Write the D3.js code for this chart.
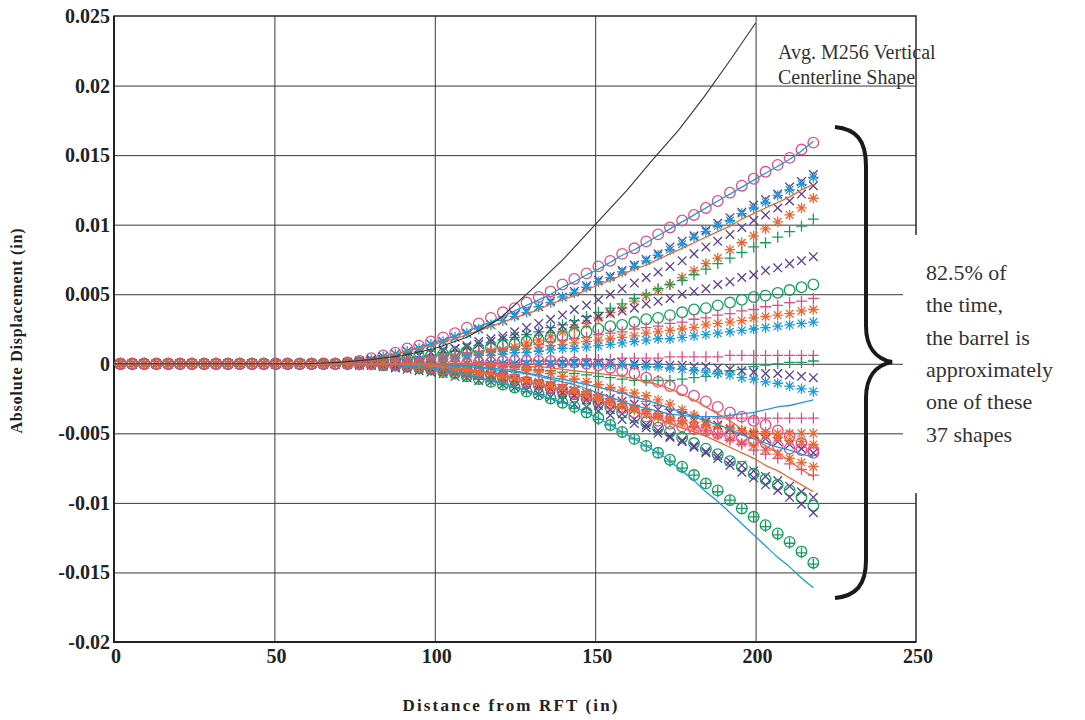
<!DOCTYPE html>
<html><head><meta charset="utf-8">
<script src="https://cdn.jsdelivr.net/npm/d3@7"></script>
<style>body{margin:0;background:#fff}svg{display:block}</style>
</head><body><svg id="c" width="1085" height="720"></svg>
<script>
// Distance from RFT (in) of each measurement station
const stations = [2.0,5.7,9.4,13.2,16.9,20.6,24.3,28.1,31.8,35.5,39.2,43.0,46.7,50.4,54.1,57.9,61.6,65.3,69.0,
  72.8,76.5,80.2,83.9,87.7,91.4,95.1,98.8,102.6,106.3,110.0,113.7,117.5,121.2,124.9,128.6,132.4,136.1,139.8,143.5,147.3,
  151.0,154.7,158.4,162.2,165.9,169.6,173.3,177.1,180.8,184.5,188.2,192.0,195.7,199.4,203.1,206.9,210.6,214.3,218.0];

// Shape values, in units of 0.0001 in, one per station
const pinkCircleTop   = [0,0,0,0,0,0,0,0,0,0,0,0,0,0,0,0,0,0,0, 1,2,4,6,8,11,13,16,19,22, 26,29,33,37,40,44,48,52,57,61, 65,70,74,79,83,88,93,98,103,107, 112,117,123,128,133,138,143,148,154,159];
const purpleXTop      = [0,0,0,0,0,0,0,0,0,0,0,0,0,0,0,0,0,0,0, 1,2,3,5,7,9,11,14,16,19, 22,25,28,31,35,38,41,45,48,52, 56,60,63,67,71,75,79,84,88,92, 96,101,105,109,114,118,122,127,131,136];
const cyanStarTop     = [0,0,0,0,0,0,0,0,0,0,0,0,0,0,0,0,0,0,0, 1,2,3,5,7,9,11,14,16,19, 22,25,28,31,34,37,41,44,48,51, 55,59,62,66,70,74,78,82,86,91, 95,99,103,108,112,116,121,125,129,134];
const purpleXUpper    = [0,0,0,0,0,0,0,0,0,0,0,0,0,0,0,0,0,0,0, 0,1,2,3,4,5,6,8,10,11, 13,16,18,20,23,26,29,32,35,39, 42,46,50,54,58,62,66,70,74,79, 84,88,93,98,103,107,112,117,122,128];
const orangeStarUpper = [0,0,0,0,0,0,0,0,0,0,0,0,0,0,0,0,0,0,0, 0,0,0,0,1,1,2,2,3,4, 6,7,9,10,12,15,17,20,23,26, 29,33,37,40,45,49,53,57,62,67, 72,76,82,87,92,97,102,107,112,119];
const greenPlusUpper  = [0,0,0,0,0,0,0,0,0,0,0,0,0,0,0,0,0,0,0, 0,1,1,2,3,4,5,6,8,9, 11,13,15,17,19,21,23,26,28,31, 34,37,40,43,47,50,54,57,60,64, 68,72,76,80,84,87,91,95,99,104];
const purpleXMid      = [0,0,0,0,0,0,0,0,0,0,0,0,0,0,0,0,0,0,0, 0,1,2,3,4,5,6,8,9,11, 12,14,16,18,20,21,23,25,27,29, 32,34,36,38,40,43,45,47,50,52, 54,57,59,62,64,67,69,72,74,77];
const greenCircleMid  = [0,0,0,0,0,0,0,0,0,0,0,0,0,0,0,0,0,0,0, 0,1,1,2,3,4,5,6,7,8, 9,10,12,13,14,16,17,19,20,22, 23,25,27,28,30,32,33,35,37,39, 40,42,44,46,48,49,51,53,55,57];
const pinkPlusMid     = [0,0,0,0,0,0,0,0,0,0,0,0,0,0,0,0,0,0,0, 0,1,1,2,2,3,4,5,6,7, 8,9,10,11,12,13,14,16,17,18, 19,21,22,23,25,26,27,29,30,32, 33,35,36,38,39,41,42,44,45,47];
const orangeStarMid   = [0,0,0,0,0,0,0,0,0,0,0,0,0,0,0,0,0,0,0, 0,1,1,1,2,3,3,4,5,5, 6,7,8,9,10,11,12,13,14,15, 16,17,18,19,20,22,23,24,25,26, 28,29,30,31,33,34,35,36,38,39];
const cyanStarMid     = [0,0,0,0,0,0,0,0,0,0,0,0,0,0,0,0,0,0,0, 0,0,1,1,2,2,3,3,4,4, 5,6,6,7,8,8,9,10,11,11, 12,13,14,15,16,17,18,18,19,20, 21,22,23,24,25,26,27,28,29,30];
const pinkPlusFlat    = [0,0,0,0,0,0,0,0,0,0,0,0,0,0,0,0,0,0,0, 0,0,0,0,0,0,0,0,0,0, 0,1,1,1,1,2,2,2,2,3, 3,3,3,4,4,4,4,5,5,5, 5,5,6,6,6,6,6,6,6,6];
const greenPlusDip    = [0,0,0,0,0,0,0,0,0,0,0,0,0,0,0,0,0,0,0, 0,0,0,0,0,0,0,0,0,0, 0,-1,-1,-2,-2,-3,-4,-5,-6,-7, -8,-9,-10,-11,-12,-12,-12,-12,-11,-10, -9,-7,-5,-4,-2,-1,0,1,1,2];
const purpleXFlat     = [0,0,0,0,0,0,0,0,0,0,0,0,0,0,0,0,0,0,0, 0,0,0,0,0,0,0,0,0,0, 0,0,0,0,0,0,0,0,1,1, 1,1,1,1,0,0,0,-1,-1,-2, -2,-3,-4,-5,-6,-7,-7,-8,-9,-10];
const cyanStarLow     = [0,0,0,0,0,0,0,0,0,0,0,0,0,0,0,0,0,0,0, 0,0,0,0,0,0,0,0,0,0, 0,0,0,0,0,0,0,0,0,0, 0,0,-1,-1,-1,-2,-2,-3,-4,-5, -6,-7,-8,-10,-11,-13,-14,-16,-18,-20];
const pinkPlusLow     = [0,0,0,0,0,0,0,0,0,0,0,0,0,0,0,0,0,0,0, 0,0,0,0,0,0,0,0,0,0, 0,0,-1,-2,-3,-4,-5,-7,-9,-11, -13,-15,-18,-21,-24,-27,-30,-33,-35,-37, -38,-39,-39,-39,-39,-39,-39,-39,-39,-39];
const orangeStarLow   = [0,0,0,0,0,0,0,0,0,0,0,0,0,0,0,0,0,0,0, 0,0,0,0,0,0,0,0,0,0, -1,-1,-2,-3,-4,-5,-6,-7,-9,-11, -13,-15,-17,-19,-21,-23,-26,-29,-33,-37, -41,-45,-47,-48,-49,-49,-50,-50,-50,-50];
const pinkCircleBend  = [0,0,0,0,0,0,0,0,0,0,0,0,0,0,0,0,0,0,0, 0,0,0,0,0,0,0,0,0,0, 0,1,1,2,2,2,2,2,1,1, 0,-1,-3,-5,-7,-10,-13,-16,-19,-23, -27,-31,-35,-38,-41,-44,-48,-52,-57,-62];
const purpleXLow      = [0,0,0,0,0,0,0,0,0,0,0,0,0,0,0,0,0,0,0, 0,0,-1,-1,-2,-2,-3,-4,-5,-6, -7,-8,-9,-10,-12,-13,-14,-16,-18,-19, -21,-23,-25,-27,-29,-31,-33,-35,-37,-40, -42,-44,-47,-49,-51,-54,-56,-58,-61,-64];
const orangeStarLower = [0,0,0,0,0,0,0,0,0,0,0,0,0,0,0,0,0,0,0, 0,-1,-1,-1,-2,-3,-4,-5,-6,-7, -8,-9,-10,-12,-13,-15,-17,-18,-20,-22, -24,-26,-29,-31,-33,-36,-38,-41,-43,-46, -48,-51,-54,-57,-59,-62,-65,-68,-71,-74];
const pinkPlusLower   = [0,0,0,0,0,0,0,0,0,0,0,0,0,0,0,0,0,0,0, 0,0,0,0,0,-1,-1,-2,-2,-3, -4,-5,-6,-7,-8,-10,-12,-13,-15,-17, -20,-22,-25,-27,-30,-33,-36,-39,-41,-45, -48,-51,-55,-58,-62,-65,-68,-72,-76,-80];
const purpleXLower    = [0,0,0,0,0,0,0,0,0,0,0,0,0,0,0,0,0,0,0, 0,-1,-1,-2,-3,-4,-5,-6,-7,-9, -10,-12,-13,-15,-17,-19,-22,-24,-26,-29, -31,-34,-37,-40,-43,-46,-50,-53,-56,-59, -63,-66,-70,-73,-77,-81,-84,-88,-92,-96];
const greenCircleLower= [0,0,0,0,0,0,0,0,0,0,0,0,0,0,0,0,0,0,0, 0,0,0,0,-1,-1,-2,-2,-3,-4, -5,-6,-7,-9,-11,-13,-15,-17,-20,-22, -25,-28,-31,-35,-38,-42,-46,-49,-53,-57, -61,-65,-70,-74,-79,-83,-87,-91,-96,-102];
const purpleXBottom   = [0,0,0,0,0,0,0,0,0,0,0,0,0,0,0,0,0,0,0, 0,0,0,0,-1,-1,-2,-2,-3,-4, -5,-6,-8,-9,-11,-13,-16,-18,-21,-23, -26,-30,-33,-36,-40,-44,-48,-52,-55,-60, -64,-68,-73,-78,-82,-87,-91,-96,-101,-107];
const greenCircleBottom=[0,0,0,0,0,0,0,0,0,0,0,0,0,0,0,0,0,0,0, 0,0,0,-1,-1,-2,-3,-4,-6,-7, -9,-11,-13,-15,-17,-20,-22,-25,-28,-31, -35,-39,-44,-49,-54,-59,-64,-69,-74,-80, -86,-91,-98,-104,-110,-116,-122,-128,-135,-143];
const greenPlusBottom = [0,0,0,0,0,0,0,0,0,0,0,0,0,0,0,0,0,0,0, 0,0,0,-1,-1,-2,-3,-4,-6,-7, -9,-11,-13,-15,-17,-20,-22,-25,-28,-32, -35,-40,-44,-49,-54,-59,-64,-70,-75,-80, -86,-92,-98,-104,-110,-117,-123,-129,-136,-144];
const pinkCirclePlateau=[0,0,0,0,0,0,0,0,0,0,0,0,0,0,0,0,0,0,0, 0,0,0,0,-1,-1,-2,-3,-4,-5, -6,-7,-8,-10,-11,-13,-15,-17,-19,-21, -23,-26,-29,-32,-35,-38,-41,-43,-45,-47, -48,-50,-51,-53,-55,-57,-59,-61,-62,-64];
const orangeStarPlateau=[0,0,0,0,0,0,0,0,0,0,0,0,0,0,0,0,0,0,0, 0,0,0,0,0,-1,-2,-2,-3,-4, -5,-6,-7,-9,-10,-12,-13,-15,-17,-19, -21,-23,-26,-29,-32,-34,-37,-39,-41,-42, -44,-45,-46,-48,-50,-51,-53,-55,-56,-58];

// Solid curve shapes (same stations, 0.0001 in)
const cyanLineTop     = [0,0,0,0,0,0,0,0,0,0,0,0,0,0,0,0,0,0,0, 1,2,3,5,7,9,12,14,17,20, 23,27,30,34,38,42,46,50,55,59, 64,68,73,78,82,87,92,97,102,107, 112,117,122,127,132,137,142,147,153,160];
const orangeLineTop   = [0,0,0,0,0,0,0,0,0,0,0,0,0,0,0,0,0,0,0, 1,2,3,5,7,9,11,13,16,18, 21,24,27,30,33,36,39,43,46,49, 53,57,60,64,68,71,75,79,83,87, 91,95,99,104,108,112,116,120,125,129];
const cyanLineDip     = [0,0,0,0,0,0,0,0,0,0,0,0,0,0,0,0,0,0,0, 0,0,0,0,0,0,0,0,0,-1, -1,-2,-3,-4,-5,-7,-9,-11,-13,-15, -18,-21,-24,-27,-30,-32,-34,-36,-37,-38, -38,-38,-37,-36,-35,-33,-31,-30,-28,-26];
const cyanLineMid     = [0,0,0,0,0,0,0,0,0,0,0,0,0,0,0,0,0,0,0, 0,0,0,0,0,0,0,-1,-1,-2, -2,-3,-4,-5,-6,-7,-8,-10,-11,-13, -15,-17,-19,-21,-24,-26,-29,-32,-35,-38, -41,-44,-47,-51,-54,-57,-60,-62,-65,-67];
const cyanLineBottom  = [0,0,0,0,0,0,0,0,0,0,0,0,0,0,0,0,0,0,0, 0,0,-1,-1,-1,-2,-2,-3,-4,-6, -8,-10,-12,-14,-17,-19,-22,-25,-28,-31, -35,-39,-44,-49,-54,-59,-64,-70,-77,-84, -92,-99,-107,-115,-123,-131,-139,-146,-154,-161];
const orangeLineLow   = [0,0,0,0,0,0,0,0,0,0,0,0,0,0,0,0,0,0,0, 0,0,0,0,0,0,0,0,0,0, 0,0,0,-1,-1,-2,-2,-3,-4,-5, -6,-7,-8,-9,-11,-13,-15,-18,-22,-26, -31,-36,-41,-47,-53,-59,-64,-70,-76,-81];
const orangeLineBottom= [0,0,0,0,0,0,0,0,0,0,0,0,0,0,0,0,0,0,0, 0,0,0,0,0,0,-1,-1,-2,-3, -4,-6,-7,-9,-11,-13,-15,-17,-19,-21, -24,-26,-29,-32,-34,-37,-40,-43,-46,-49, -52,-56,-60,-64,-68,-73,-77,-82,-87,-92];

// Avg. M256 vertical centerline shape
const avgX = [0,20,40,60,70,80,90,100,110,120,130,140,150,160,168,176,184,192,200];
const avgY = [0,0,0,0,1,3,6,11,19,32,53,75,100,125,147,168,192,218,245];

const UNIT = 1e-4;
const xTicks = [0,50,100,150,200,250];
const yTicks = [0.025,0.02,0.015,0.01,0.005,0,-0.005,-0.01,-0.015,-0.02];
const yTickLabels = ["0.025","0.02","0.015","0.01","0.005","0","-0.005","-0.01","-0.015","-0.02"];
const noteLines = ["82.5% of","the time,","the barrel is","approximately","one of these","37 shapes"];

const C = {pink:"#e84a82", purple:"#5a3e96", cyan:"#1d9cd8", orange:"#ef6630", green:"#12a05a"};
const markerSeries = [
  [pinkCircleTop,"pink","circle"],[purpleXTop,"purple","x"],[cyanStarTop,"cyan","star"],
  [purpleXUpper,"purple","x"],[orangeStarUpper,"orange","star"],[greenPlusUpper,"green","plus"],
  [purpleXMid,"purple","x"],[greenCircleMid,"green","circle"],[pinkPlusMid,"pink","plus"],
  [orangeStarMid,"orange","star"],[cyanStarMid,"cyan","star"],[pinkPlusFlat,"pink","plus"],
  [greenPlusDip,"green","plus"],[purpleXFlat,"purple","x"],[cyanStarLow,"cyan","star"],
  [pinkPlusLow,"pink","plus"],[orangeStarLow,"orange","star"],[pinkCircleBend,"pink","circle"],
  [purpleXLow,"purple","x"],[orangeStarLower,"orange","star"],[pinkPlusLower,"pink","plus"],
  [purpleXLower,"purple","x"],[greenCircleLower,"green","circle"],[purpleXBottom,"purple","x"],
  [greenCircleBottom,"green","circle"],[greenPlusBottom,"green","plus"],
  [pinkCirclePlateau,"pink","circle"],[orangeStarPlateau,"orange","star"]
];
const lineSeries = [
  [cyanLineTop,"cyan"],[orangeLineTop,"orange"],[cyanLineDip,"cyan"],[cyanLineMid,"cyan"],
  [cyanLineBottom,"cyan"],[orangeLineLow,"orange"],[orangeLineBottom,"orange"]
];

const svg = d3.select("#c");
const X0 = 114, X1 = 916, Y0 = 16, Y1 = 642;
const x = d3.scaleLinear().domain([0,250]).range([X0,X1]);
const y = d3.scaleLinear().domain([-0.02,0.025]).range([Y1,Y0]);

// grid
const grid = svg.append("g");
grid.append("g").attr("transform",`translate(0,${Y1})`)
  .call(d3.axisBottom(x).tickValues(xTicks.slice(1,-1)).tickSize(-(Y1-Y0)).tickFormat(""))
  .call(g=>{g.select(".domain").remove(); g.selectAll("line").attr("stroke","#3a3a3a").attr("stroke-width",1);});
grid.append("g").attr("transform",`translate(${X0},0)`)
  .call(d3.axisLeft(y).tickValues(yTicks.slice(1,-1)).tickSize(-(X1-X0)).tickFormat(""))
  .call(g=>{g.select(".domain").remove(); g.selectAll("line").attr("stroke","#3a3a3a").attr("stroke-width",1);});

// frame
svg.append("rect").attr("x",X0).attr("y",Y0).attr("width",X1-X0).attr("height",Y1-Y0)
  .attr("fill","none").attr("stroke","#2a2a2a").attr("stroke-width",1.5);
svg.append("path").attr("d",`M${X0},${Y0}V${Y1}H${X1}`).attr("fill","none").attr("stroke","#222").attr("stroke-width",2);

// tick labels
const tf = "'Liberation Serif','Times New Roman',serif";
svg.append("g").selectAll("text").data(yTicks).join("text")
  .attr("x",X0-4).attr("y",d=>y(d)).attr("dy","0.35em").attr("text-anchor","end")
  .attr("font-family",tf).attr("font-weight","bold").attr("font-size",20).attr("fill","#222")
  .text((d,i)=>yTickLabels[i]);
svg.append("g").selectAll("text").data(xTicks).join("text")
  .attr("x",d=>x(d)+2).attr("y",Y1+21).attr("text-anchor","middle")
  .attr("font-family",tf).attr("font-weight","bold").attr("font-size",20).attr("fill","#222")
  .text(d=>d);

// axis titles
svg.append("text").attr("x",510).attr("y",711).attr("text-anchor","middle")
  .attr("font-family",tf).attr("font-weight","bold").attr("font-size",17).attr("fill","#222")
  .attr("textLength",215).attr("lengthAdjust","spacing").text("Distance from RFT (in)");
svg.append("text").attr("transform","translate(22,331) rotate(-90)").attr("text-anchor","middle")
  .attr("font-family",tf).attr("font-weight","bold").attr("font-size",16).attr("fill","#222")
  .attr("textLength",205).attr("lengthAdjust","spacing").text("Absolute Displacement (in)");

// markers
const sym = {
  circle: d3.symbol().type(d3.symbolCircle).size(Math.PI*5.3*5.3)(),
  x: "M-4.3,-4.3L4.3,4.3M-4.3,4.3L4.3,-4.3",
  plus: "M-5.5,0H5.5M0,-5.5V5.5",
  star: "M-5.3,0H5.3M0,-5.3V5.3M-3.8,-3.8L3.8,3.8M-3.8,3.8L3.8,-3.8"
};
const mg = svg.append("g");
markerSeries.forEach(([vals,col,shape])=>{
  mg.append("g").selectAll("path").data(vals).join("path")
    .attr("d",sym[shape])
    .attr("transform",(v,i)=>`translate(${x(stations[i])},${y(v*UNIT)})`)
    .attr("fill","none").attr("stroke",C[col]).attr("stroke-width",1.3);
});

// lines
const line = d3.line().x((v,i)=>x(stations[i])).y(v=>y(v*UNIT)).curve(d3.curveMonotoneX);
lineSeries.forEach(([vals,col])=>{
  svg.append("path").attr("d",line(vals)).attr("fill","none").attr("stroke",C[col]).attr("stroke-width",1.3);
});
const avgLine = d3.line().x((d,i)=>x(avgX[i])).y(d=>y(d*UNIT));
svg.append("path").attr("d",avgLine(avgY)).attr("fill","none").attr("stroke","#333").attr("stroke-width",1.1);

// annotation
svg.append("rect").attr("x",903).attr("y",235).attr("width",182).attr("height",258).attr("fill","#fff");
svg.append("g").selectAll("text").data(["Avg. M256 Vertical","Centerline Shape"]).join("text")
  .attr("x",778).attr("y",(d,i)=>59+i*25)
  .attr("font-family",tf).attr("font-size",20).attr("fill","#333").text(d=>d);
svg.append("g").selectAll("text").data(noteLines).join("text")
  .attr("x",926).attr("y",(d,i)=>280+i*32.3)
  .attr("font-family",tf).attr("font-size",22).attr("fill","#333").text(d=>d);
svg.append("path")
  .attr("d","M835,127 C856,129 866,140 866,166 L866,326 C866,347 876,359 892,362 C876,365 866,377 866,398 L866,560 C866,585 856,596 835,598")
  .attr("fill","none").attr("stroke","#1a1a1a").attr("stroke-width",4);
</script></body></html>
